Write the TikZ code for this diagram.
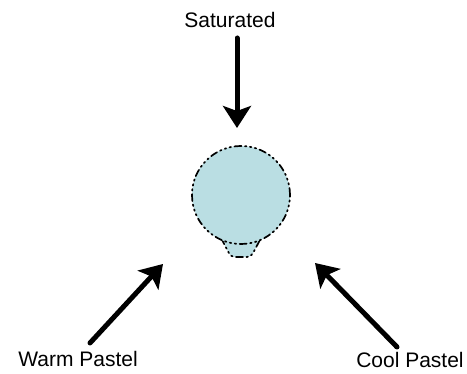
\documentclass[tikz,border=0pt]{standalone}
\usepackage{fontspec}
\setmainfont{Liberation Sans}
\usetikzlibrary{arrows.meta,positioning}
\definecolor{BulbCyan}{HTML}{BADEE3}

\begin{document}
\begin{tikzpicture}[x=1pt,y=1pt,line cap=round,line join=round,
  pointer/.style={line width=5pt,-{Stealth[length=22pt,width=28pt,inset=5pt]}},
  outline/.style={fill=BulbCyan,line width=1.7pt,
    dash pattern=on 7pt off 3.5pt on 1.5pt off 3.5pt on 1.5pt off 3.5pt on 1.5pt off 3.5pt},
  caption/.style={font=\fontsize{21}{24}\selectfont}]
  \useasboundingbox (0,0) rectangle (467,374);

  \coordinate (C) at (241,179);
  % cap under the bulb
  \draw[outline,rounded corners=4pt] (221,136)--(231,117)--(251,117)--(261,136);
  \draw[outline] (C) circle (49);

  \node[caption] (sat) at (230,354) {Saturated};
  \node[caption] (warm) at (78,15) {Warm Pastel};
  \node[caption] (cool) at (410,14) {Cool Pastel};

  \coordinate (satTail) at (237,336);
  \coordinate (satTip) at (237,246);
  \coordinate (warmTail) at (90,31);
  \coordinate (warmTip) at (163,110);
  \coordinate (coolTail) at (397,27);
  \coordinate (coolTip) at (315,111);

  \draw[pointer] (satTail)--(satTip);
  \draw[pointer] (warmTail)--(warmTip);
  \draw[pointer] (coolTail)--(coolTip);
\end{tikzpicture}
\end{document}
